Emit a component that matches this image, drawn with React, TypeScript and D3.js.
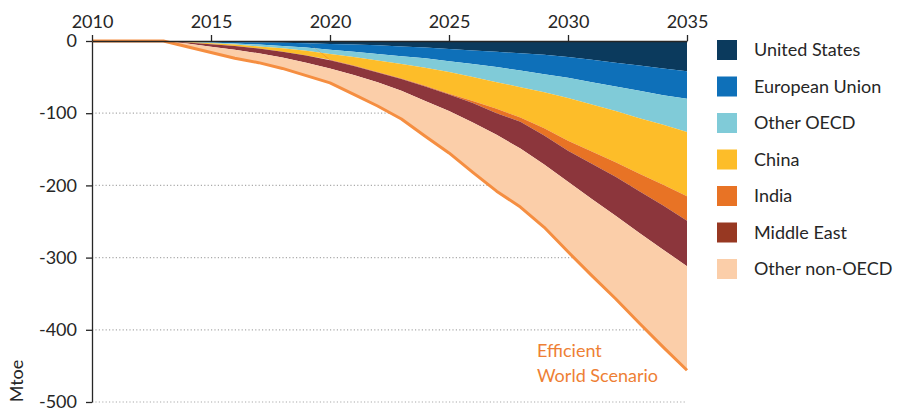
import * as d3 from "d3";
import { useEffect, useRef } from "react";

const years = d3.range(2010, 2036);

// savings vs baseline by region, Mtoe (negative)
const unitedStates = [0, 0, 0, 0, -0.5, -1, -1.5, -2, -2.5, -3, -4, -5, -6, -7.5, -9, -11, -13, -15, -17, -19, -22, -26, -30, -34, -38, -42];
const europeanUnion = [0, 0, 0, 0, -0.5, -1, -2, -3, -4.5, -6, -8, -10, -12, -13.5, -15, -17, -19, -21, -24, -27, -29, -31, -33, -35, -37, -38];
const otherOecd = [0, 0, 0, 0, -0.5, -1, -1.5, -2.5, -3, -4.5, -6, -7, -9, -11, -13, -15, -18, -21, -23, -25, -28, -31, -34, -38, -41, -46];
const china = [0, 0, 0, 0, -0.5, -1.5, -2, -3, -5, -6.5, -8, -12, -16, -20, -25, -30, -33, -37, -42, -50, -59, -65, -71, -77, -83, -89];
const india = [0, 0, 0, 0, 0, 0, 0, 0, 0, 0, -0.5, -0.5, -0.5, -0.5, -1, -1, -3, -6, -6, -10, -14, -17, -20, -24, -29, -34];
const middleEast = [0, 0, 0, 0, -1.5, -3.5, -5, -6.5, -8, -10, -11.5, -12.5, -13.5, -16.5, -20, -23, -27, -30, -37, -40, -43, -49, -54, -58, -61, -63];
const otherNonOecd = [0, 0, 0, 0, -4.5, -8, -12, -13, -15, -18, -20, -27, -33, -39, -49, -58, -69, -78, -81, -87, -97, -106, -115, -125, -135, -144];

const series = [
  { name: "United States", values: unitedStates, color: "#0b3a5d", legend: "#0b3a5d" },
  { name: "European Union", values: europeanUnion, color: "#0e70b9", legend: "#0e70b9" },
  { name: "Other OECD", values: otherOecd, color: "#80cbd8", legend: "#80cbd8" },
  { name: "China", values: china, color: "#fdbd29", legend: "#fdbd29" },
  { name: "India", values: india, color: "#e87325", legend: "#e87325" },
  { name: "Middle East", values: middleEast, color: "#8c363c", legend: "#973822" },
  { name: "Other non-OECD", values: otherNonOecd, color: "#fbcea9", legend: "#fbcea9" },
];

const yTicks = [0, -100, -200, -300, -400, -500];
const xTicks = [2010, 2015, 2020, 2025, 2030, 2035];

export default function App() {
  const ref = useRef<SVGSVGElement | null>(null);

  useEffect(() => {
    const el = ref.current;
    if (!el) return;
    const svg = d3.select(el);
    svg.selectAll("*").remove();

    const font = "Lato, 'Open Sans', sans-serif";
    const ink = "#262626";

    const x = d3.scaleLinear().domain([2010, 2035]).range([92, 687]);
    const y = d3.scaleLinear().domain([-500, 0]).range([402, 41]);

    const rows = years.map((yr, i) => {
      const r: Record<string, number> = { year: yr };
      series.forEach((s) => (r[s.name] = s.values[i]));
      return r;
    });

    const stacked = d3
      .stack<Record<string, number>>()
      .keys(series.map((s) => s.name))
      .offset(d3.stackOffsetDiverging)(rows);

    // grid
    svg
      .append("g")
      .selectAll("line")
      .data(yTicks.filter((t) => t !== 0))
      .join("line")
      .attr("x1", x(2010))
      .attr("x2", x(2035))
      .attr("y1", (d) => y(d))
      .attr("y2", (d) => y(d))
      .attr("stroke", "#aaa")
      .attr("stroke-width", 1.2)
      .attr("stroke-dasharray", "1.2,2.2");

    const area = d3
      .area<d3.SeriesPoint<Record<string, number>>>()
      .x((d) => x(d.data.year))
      .y0((d) => y(d[0]))
      .y1((d) => y(d[1]));

    svg
      .append("g")
      .selectAll("path")
      .data(stacked)
      .join("path")
      .attr("d", area)
      .attr("fill", (_, i) => series[i].color);

    const totals = years.map((yr, i) => ({
      year: yr,
      v: d3.sum(series, (s) => s.values[i]),
    }));

    svg
      .append("path")
      .datum(totals)
      .attr(
        "d",
        d3
          .line<{ year: number; v: number }>()
          .x((d) => x(d.year))
          .y((d) => y(d.v)),
      )
      .attr("fill", "none")
      .attr("stroke", "#f58e41")
      .attr("stroke-width", 3)
      .attr("stroke-linejoin", "round");

    // axes
    svg
      .append("g")
      .attr("transform", `translate(0,${y(0)})`)
      .call(d3.axisTop(x).tickValues(xTicks).tickFormat(d3.format("d")).tickSize(6).tickSizeOuter(0))
      .call((g) => g.select(".domain").attr("stroke", ink).attr("stroke-width", 1.3))
      .call((g) => g.selectAll(".tick line").attr("stroke", ink).attr("stroke-width", 1.3))
      .call((g) =>
        g
          .selectAll(".tick text")
          .attr("fill", ink)
          .attr("font-size", 18)
          .attr("font-family", font)
          .attr("dy", "-4"),
      );

    svg
      .append("g")
      .attr("transform", `translate(${x(2010)},0)`)
      .call(
        d3
          .axisLeft(y)
          .tickValues(yTicks)
          .tickFormat((v) => String(v))
          .tickSize(6)
          .tickPadding(9)
          .tickSizeOuter(0),
      )
      .call((g) => g.select(".domain").attr("stroke", ink).attr("stroke-width", 1.3))
      .call((g) => g.selectAll(".tick line").attr("stroke", ink).attr("stroke-width", 1.3))
      .call((g) =>
        g
          .selectAll(".tick text")
          .attr("fill", ink)
          .attr("font-size", 18)
          .attr("font-family", font),
      );

    svg
      .append("text")
      .attr("transform", "translate(23,381) rotate(-90)")
      .attr("text-anchor", "middle")
      .attr("fill", ink)
      .attr("font-size", 18)
      .attr("font-family", font)
      .text("Mtoe");

    // annotation
    const note = svg
      .append("text")
      .attr("fill", "#ee7f35")
      .attr("font-size", 18)
      .attr("font-family", font);
    note.append("tspan").attr("x", 537).attr("y", 357).text("Efficient");
    note.append("tspan").attr("x", 537).attr("y", 382).text("World Scenario");

    // legend
    const lg = svg
      .append("g")
      .selectAll("g")
      .data(series)
      .join("g")
      .attr("transform", (_, i) => `translate(717,${40 + i * 36.5})`);
    lg.append("rect").attr("width", 20).attr("height", 20).attr("fill", (d) => d.legend);
    lg.append("text")
      .attr("x", 37)
      .attr("y", 16)
      .attr("fill", ink)
      .attr("font-size", 18)
      .attr("font-family", font)
      .text((d) => d.name);
  }, []);

  return (
    <svg
      ref={ref}
      width={902}
      height={413}
      style={{ position: "absolute", left: 0, top: 0, background: "#fff" }}
    />
  );
}
